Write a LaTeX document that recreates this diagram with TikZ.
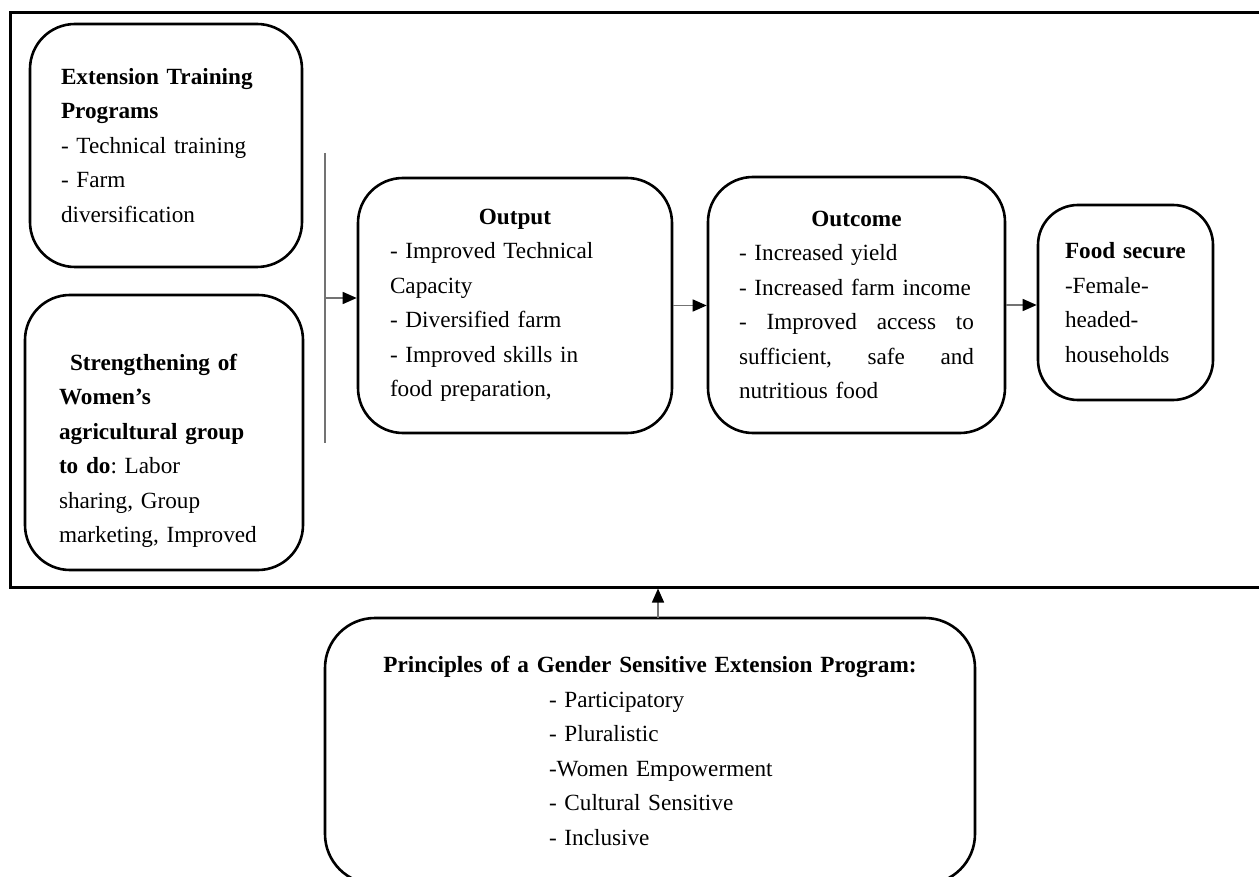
\documentclass[tikz,border=0pt]{standalone}
\usepackage{fontspec}
\setmainfont{Liberation Serif}
\usetikzlibrary{arrows.meta,calc}

\tikzset{
  box/.style={draw=black, line width=2.6pt, rounded corners=45pt, fill=white,
    align=left, inner ysep=0pt,
    font=\fontsize{23.2}{34.5}\selectfont\frenchspacing},
  conn/.style={draw=black!55, line width=1.4pt},
  arr/.style={conn, -{Triangle[length=14pt,width=12pt,color=black]}},
}

\begin{document}
\begin{tikzpicture}[x=1pt,y=-1pt]
\useasboundingbox (0,0) rectangle (1259,877);
\clip (0,0) rectangle (1259,877);

% outer frame (runs past the right edge)
\node[draw=black, line width=3pt, minimum width=1265pt, minimum height=574pt,
      inner sep=0pt] (frame) at (642.5,300) {};

% input boxes
\node[box, minimum width=272pt, minimum height=243pt, inner xsep=31pt,
      text width=210pt] (etp) at (166,145.5)
  {\textbf{Extension Training}\\ \textbf{Programs}\\ - Technical training\\ - Farm\\ diversification};

\node[box, minimum width=278pt, minimum height=275pt, inner xsep=34pt,
      text width=210pt] (swg) at (164,432.5)
  {\rule{0pt}{53pt}\hspace*{11pt}\textbf{Strengthening of}\\ \textbf{Women’s}\\
   \textbf{agricultural group}\\ \textbf{to do}: Labor\\ sharing, Group\\ marketing, Improved};

% output, outcome, impact
\node[box, minimum width=314pt, minimum height=255pt, inner xsep=32pt,
      text width=250pt] (out) at (515,305.5)
  {\makebox[\linewidth]{\textbf{Output}}\\ - Improved Technical\\ Capacity\\
   - Diversified farm\\ - Improved skills in\\ food preparation,};

\node[box, minimum width=297pt, minimum height=256pt, inner xsep=31pt,
      text width=235pt] (oc) at (856.5,305)
  {\makebox[\linewidth]{\textbf{Outcome}}\\ - Increased yield\\ - Increased farm income\\
   \makebox[\linewidth]{-\hfill Improved\hfill access\hfill to}\\
   \makebox[\linewidth]{sufficient,\hfill safe\hfill and}\\ nutritious food};

\node[box, rounded corners=40pt, minimum width=175pt, minimum height=195pt,
      inner xsep=27pt, text width=121pt] (fs) at (1125.5,302.5)
  {\textbf{Food secure}\\ -Female-\\ headed-\\ households};

% principles box (runs past the bottom edge)
\node[box, rounded corners=50pt, minimum width=650pt, minimum height=266pt,
      inner xsep=25pt, text width=600pt] (pr) at (650,751)
  {\makebox[\linewidth]{\textbf{Principles of a Gender Sensitive Extension Program:}}\\
   \hspace*{199pt}- Participatory\\ \hspace*{199pt}- Pluralistic\\
   \hspace*{199pt}-Women Empowerment\\ \hspace*{199pt}- Cultural Sensitive\\
   \hspace*{199pt}- Inclusive};

% connectors
\coordinate (bt) at (325,153);
\coordinate (bb) at (325,443);
\coordinate (bj) at (325,298);
\draw[conn] (bt) -- (bb);
\draw[arr] (bj) -- (bj -| out.west);
\draw[arr] (out.east) -- (out.east -| oc.west);
\draw[arr] (oc.east) -- (oc.east -| fs.west);
\coordinate (pin) at (658,618);
\draw[arr] (pin) -- (pin |- frame.south);
\end{tikzpicture}
\end{document}
